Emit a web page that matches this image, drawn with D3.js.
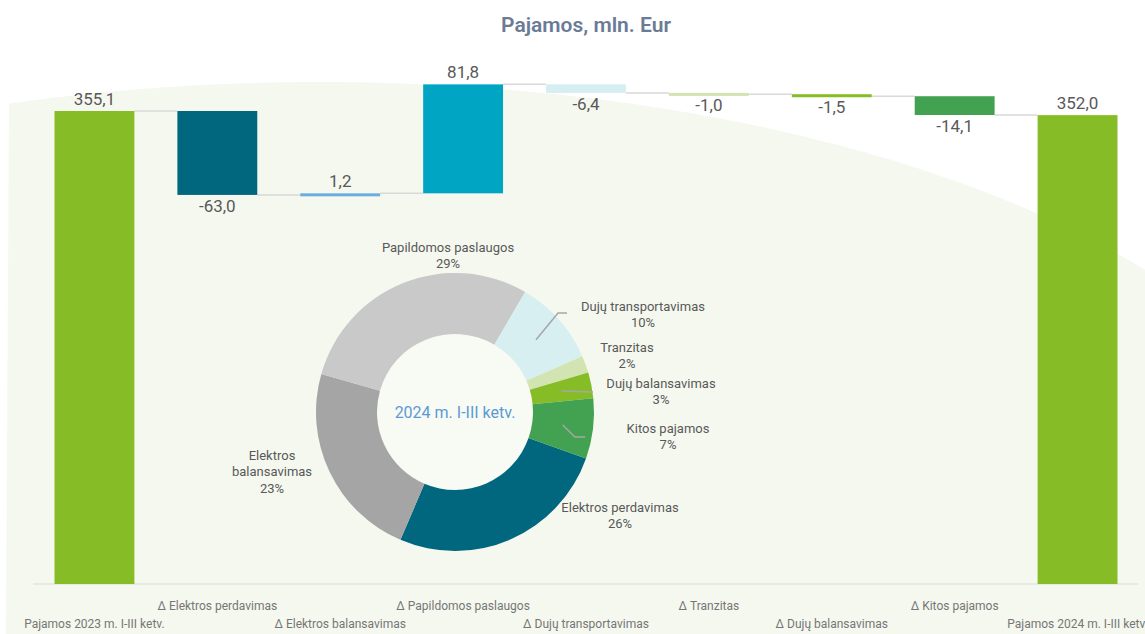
<!DOCTYPE html>
<html>
<head>
<meta charset="utf-8">
<script src="https://cdn.jsdelivr.net/npm/d3@7"></script>
<style>
  html, body { margin: 0; padding: 0; background: #fff; }
  svg { display: block; font-family: Roboto, "Liberation Sans", sans-serif; }
</style>
</head>
<body>
<svg id="chart" width="1145" height="634"></svg>
<script>
// waterfall data
const categories = [
  "Pajamos 2023 m. I-III ketv.", "Δ Elektros perdavimas", "Δ Elektros balansavimas",
  "Δ Papildomos paslaugos", "Δ Dujų transportavimas", "Δ Tranzitas",
  "Δ Dujų balansavimas", "Δ Kitos pajamos", "Pajamos 2024 m. I-III ketv."
];
const values = [355.1, -63.0, 1.2, 81.8, -6.4, -1.0, -1.5, -14.1, 352.0];
const isTotal = [true, false, false, false, false, false, false, false, true];
const barColors = ["#86bc25", "#00677f", "#6aaee0", "#00a5c4", "#d5eef1", "#d2e4b2", "#86bc25", "#43a152", "#86bc25"];

// donut data (2024 m. I-III ketv. structure, %)
const pieNames = ["Elektros perdavimas", "Elektros balansavimas", "Papildomos paslaugos",
  "Dujų transportavimas", "Tranzitas", "Dujų balansavimas", "Kitos pajamos"];
const pieValues = [26, 23, 29, 10, 2, 3, 7];
const pieColors = ["#00677f", "#a5a5a5", "#c9c9c9", "#d7eff1", "#d2e4b2", "#86bc25", "#43a152"];

// label layout relative to donut centre
const pieLabelPos = [[165, 95], [-183, 43], [-7, -165], [188, -106], [172, -65], [206, -29], [213, 16]];
const pieLabelLines = [["Elektros perdavimas"], ["Elektros", "balansavimas"], ["Papildomos paslaugos"],
  ["Dujų transportavimas"], ["Tranzitas"], ["Dujų balansavimas"], ["Kitos pajamos"]];
const leaders = { 3: [[103, -99], [112, -99]], 5: [[138, -20]], 6: [[120, 25], [130, 25]] };

const width = 1145, height = 634;
const svg = d3.select("#chart");
const fmt = v => d3.format(".1f")(v).replace(".", ",").replace("\u2212", "-");

// background shape (ellipse top edge)
const bg = { cx: 320, top: 82, rx: 1015, ry: 450 };
const edge = d3.range(9, width + 1, 4).map(x => {
  const u = Math.min(1, Math.abs(x - bg.cx) / bg.rx);
  return [x, bg.top + bg.ry - bg.ry * Math.sqrt(1 - u * u)];
});
edge.push([width, edge[edge.length - 1][1]]);
const bgPts = [[6, height], [9, edge[0][1]], ...edge, [width, height]];
svg.append("path")
  .attr("d", d3.line()(bgPts) + "Z")
  .attr("fill", "#f5f8ef");

// title
svg.append("text")
  .attr("x", 586).attr("y", 32)
  .attr("text-anchor", "middle")
  .attr("font-size", 21).attr("font-weight", 600)
  .attr("fill", "#6b7b95")
  .text("Pajamos, mln. Eur");

// scales
const x = d3.scaleBand().domain(categories).range([33, 1139]).paddingInner(0.35).paddingOuter(0.175);
const y = d3.scaleLinear().domain([0, 400]).range([584, 584 - 400 * 1.332]);

// compute waterfall segments
let running = 0;
const bars = categories.map((c, i) => {
  let start, end;
  if (isTotal[i]) { start = 0; end = values[i]; running = values[i]; }
  else { start = running; end = running + values[i]; running = end; }
  return { c, i, v: values[i], start, end, lo: Math.min(start, end), hi: Math.max(start, end) };
});

// axis line
svg.append("line")
  .attr("x1", 33).attr("x2", 1138)
  .attr("y1", y(0)).attr("y2", y(0))
  .attr("stroke", "#d9d9d9").attr("stroke-width", 1.2);

// connectors
svg.append("g").selectAll("line")
  .data(bars.slice(0, -1))
  .join("line")
  .attr("x1", d => x(d.c) + x.bandwidth())
  .attr("x2", d => x(categories[d.i + 1]))
  .attr("y1", d => y(d.end)).attr("y2", d => y(d.end))
  .attr("stroke", "#d9d9d9").attr("stroke-width", 1.5);

// bars
svg.append("g").selectAll("rect")
  .data(bars)
  .join("rect")
  .attr("x", d => x(d.c))
  .attr("width", x.bandwidth())
  .attr("y", d => y(d.hi))
  .attr("height", d => Math.max(3, y(d.lo) - y(d.hi)))
  .attr("fill", d => barColors[d.i]);

// value labels
svg.append("g").selectAll("text")
  .data(bars)
  .join("text")
  .attr("x", d => x(d.c) + x.bandwidth() / 2)
  .attr("y", d => d.v >= 0 ? y(d.hi) - 6 : y(d.lo) + 17)
  .attr("text-anchor", "middle")
  .attr("font-size", 17)
  .attr("fill", "#595959")
  .text(d => fmt(d.v));

// category labels (staggered)
svg.append("g").selectAll("text")
  .data(categories)
  .join("text")
  .attr("x", d => x(d) + x.bandwidth() / 2)
  .attr("y", (d, i) => i % 2 === 0 ? 628 : 610)
  .attr("text-anchor", "middle")
  .attr("font-size", 12)
  .attr("fill", "#767676")
  .text(d => d);

// donut
const cx = 455, cy = 412, rOut = 139, rIn = 78;
const g = svg.append("g").attr("transform", `translate(${cx},${cy})`);
const a0 = 109.5 * Math.PI / 180;
const pie = d3.pie().sort(null).startAngle(a0).endAngle(a0 + 2 * Math.PI);
const arcs = pie(pieValues);
const arc = d3.arc().innerRadius(rIn).outerRadius(rOut);

g.append("circle").attr("r", rIn).attr("fill", "#f8faf4");
g.selectAll("path.slice")
  .data(arcs)
  .join("path")
  .attr("class", "slice")
  .attr("d", arc)
  .attr("fill", (d, i) => pieColors[i]);

// leader lines
Object.keys(leaders).forEach(k => {
  const i = +k;
  const pts = [arc.centroid(arcs[i]), ...leaders[k]];
  g.append("path")
    .attr("d", d3.line()(pts))
    .attr("fill", "none")
    .attr("stroke", "#a6a6a6")
    .attr("stroke-width", 1.5);
});

// pie labels
const lh = 16.5;
arcs.forEach((d, i) => {
  const [lx, ly] = pieLabelPos[i];
  const lines = pieLabelLines[i].concat([d.data + "%"]);
  const t = g.append("text")
    .attr("text-anchor", "middle")
    .attr("font-size", 13)
    .attr("fill", "#595959");
  lines.forEach((s, j) => {
    t.append("tspan").attr("x", lx).attr("y", ly + 4.5 + j * lh).text(s);
  });
});

// centre label
g.append("text")
  .attr("text-anchor", "middle")
  .attr("y", 6)
  .attr("font-size", 16)
  .attr("fill", "#5b9bd5")
  .text("2024 m. I-III ketv.");
</script>
</body>
</html>
